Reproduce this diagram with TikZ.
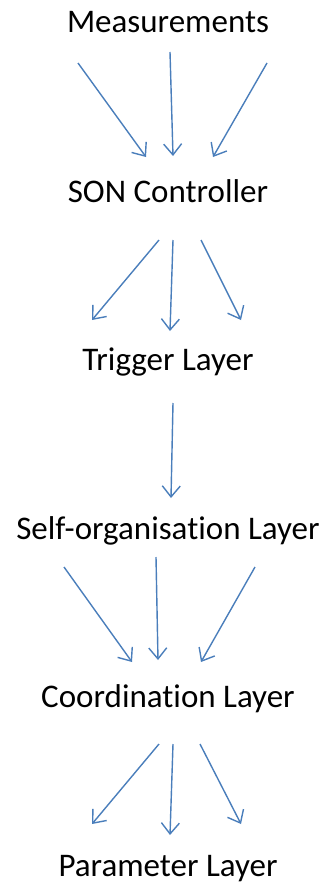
\documentclass[tikz,border=0pt]{standalone}
\usepackage{fontspec}
\setmainfont{Carlito}[Ligatures={NoCommon,NoRare}]
\usetikzlibrary{arrows.meta}
\definecolor{linkblue}{HTML}{4A7EBB}
\tikzset{
  layer/.style={anchor=base, inner sep=0pt, font=\fontsize{33}{40}\selectfont},
  link/.style={draw=linkblue, line width=1.4pt,
    -{Straight Barb[length=11pt,width=18pt,line width=1.4pt]}}
}
\begin{document}
\begin{tikzpicture}[x=1pt,y=-1pt]
\useasboundingbox (0,0) rectangle (328,883);
% layer labels
\node[layer] (meas)  at (168,33)  {Measurements};
\node[layer] (son)   at (168,202) {SON Controller};
\node[layer] (trig)  at (168,370) {Trigger Layer};
\node[layer] (self)  at (168,539) {Self-organisation Layer};
\node[layer] (coord) at (168,707) {Coordination Layer};
\node[layer] (param) at (168,876) {Parameter Layer};
% arrow end points
\coordinate (m1) at (78,63);   \coordinate (s1) at (146,157);
\coordinate (m2) at (170,52);  \coordinate (s2) at (173,156);
\coordinate (m3) at (267,63);  \coordinate (s3) at (213,157);
\coordinate (c1) at (159,240); \coordinate (t1) at (92,320);
\coordinate (c2) at (173,240); \coordinate (t2) at (170,331);
\coordinate (c3) at (201,240); \coordinate (t3) at (241,320);
\coordinate (g1) at (173,403); \coordinate (o1) at (171,498);
\coordinate (a1) at (64,567);  \coordinate (b1) at (132,662);
\coordinate (a2) at (156,557); \coordinate (b2) at (158,660);
\coordinate (a3) at (255,567); \coordinate (b3) at (201,662);
\coordinate (d1) at (159,744); \coordinate (p1) at (92,824);
\coordinate (d2) at (173,744); \coordinate (p2) at (170,835);
\coordinate (d3) at (200,744); \coordinate (p3) at (241,824);
% connectors
\draw[link] (m1) -- (s1);
\draw[link] (m2) -- (s2);
\draw[link] (m3) -- (s3);
\draw[link] (c1) -- (t1);
\draw[link] (c2) -- (t2);
\draw[link] (c3) -- (t3);
\draw[link] (g1) -- (o1);
\draw[link] (a1) -- (b1);
\draw[link] (a2) -- (b2);
\draw[link] (a3) -- (b3);
\draw[link] (d1) -- (p1);
\draw[link] (d2) -- (p2);
\draw[link] (d3) -- (p3);
\end{tikzpicture}
\end{document}
